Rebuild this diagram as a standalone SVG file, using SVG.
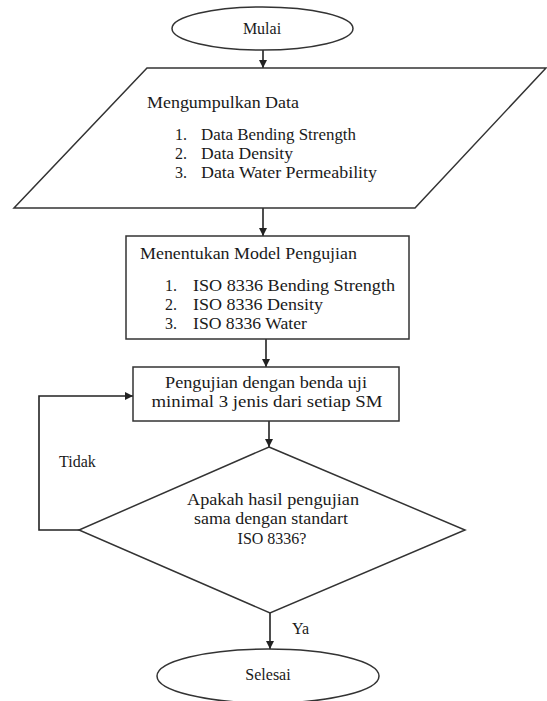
<svg xmlns="http://www.w3.org/2000/svg" width="547" height="701" viewBox="0 0 547 701">
<defs>
<style>
.s{fill:#fff;stroke:#333;stroke-width:1.5}
.c{fill:none;stroke:#222;stroke-width:1.6}
text{font-family:"Liberation Serif","Times New Roman",serif;font-size:16px;fill:#1a1a1a}
.m{text-anchor:middle}
</style>
<marker id="a" viewBox="0 0 10 10" refX="10" refY="5" markerWidth="8" markerHeight="8" markerUnits="userSpaceOnUse" orient="auto">
<path d="M0,0 L10,5 L0,10 z" fill="#222"/>
</marker>
</defs>
<rect width="547" height="701" fill="#fff"/>
<g id="connectors">
<line class="c" x1="263" y1="50" x2="263" y2="68" marker-end="url(#a)"/>
<line class="c" x1="263" y1="208" x2="263" y2="236" marker-end="url(#a)"/>
<line class="c" x1="266" y1="339" x2="266" y2="367" marker-end="url(#a)"/>
<line class="c" x1="269" y1="421" x2="269" y2="447" marker-end="url(#a)"/>
<polyline class="c" points="79,530 39,530 39,396 133,396" marker-end="url(#a)"/>
<line class="c" x1="270" y1="613" x2="270" y2="649" marker-end="url(#a)"/>
<text x="59" y="467">Tidak</text>
<text x="292" y="634">Ya</text>
</g>
<g id="mulai">
<ellipse class="s" cx="262.5" cy="28.5" rx="90.5" ry="21.5"/>
<text class="m" x="262" y="34">Mulai</text>
</g>
<g id="data">
<polygon class="s" points="147,68 546,68 415,208 14,208"/>
<text x="147" y="108" textLength="152" lengthAdjust="spacingAndGlyphs">Mengumpulkan Data</text>
<text x="175" y="140">1.</text>
<text x="201" y="140" textLength="155" lengthAdjust="spacingAndGlyphs">Data Bending Strength</text>
<text x="175" y="159">2.</text>
<text x="201" y="159" textLength="92" lengthAdjust="spacingAndGlyphs">Data Density</text>
<text x="175" y="178">3.</text>
<text x="201" y="178" textLength="176" lengthAdjust="spacingAndGlyphs">Data Water  Permeability</text>
</g>
<g id="model">
<rect class="s" x="126" y="236" width="283" height="103"/>
<text x="140" y="259" textLength="217" lengthAdjust="spacingAndGlyphs">Menentukan Model Pengujian</text>
<text x="165" y="291">1.</text>
<text x="193" y="291" textLength="202" lengthAdjust="spacingAndGlyphs">ISO 8336 Bending Strength</text>
<text x="165" y="310">2.</text>
<text x="193" y="310" textLength="130" lengthAdjust="spacingAndGlyphs">ISO 8336 Density</text>
<text x="165" y="329">3.</text>
<text x="193" y="329" textLength="114" lengthAdjust="spacingAndGlyphs">ISO 8336 Water</text>
</g>
<g id="pengujian">
<rect class="s" x="133" y="367" width="266" height="54"/>
<text class="m" x="266" y="388" textLength="202" lengthAdjust="spacingAndGlyphs">Pengujian dengan benda uji</text>
<text class="m" x="267" y="407" textLength="231" lengthAdjust="spacingAndGlyphs">minimal 3 jenis dari setiap SM</text>
</g>
<g id="keputusan">
<polygon class="s" points="269,447 465,530 270,613 79,530"/>
<text class="m" x="273" y="505" textLength="172" lengthAdjust="spacingAndGlyphs">Apakah hasil pengujian</text>
<text class="m" x="271" y="524" textLength="154" lengthAdjust="spacingAndGlyphs">sama dengan standart</text>
<text class="m" x="272" y="544">ISO 8336?</text>
</g>
<g id="selesai">
<ellipse class="s" cx="268" cy="676" rx="111" ry="27"/>
<text class="m" x="268" y="680">Selesai</text>
</g>
</svg>
